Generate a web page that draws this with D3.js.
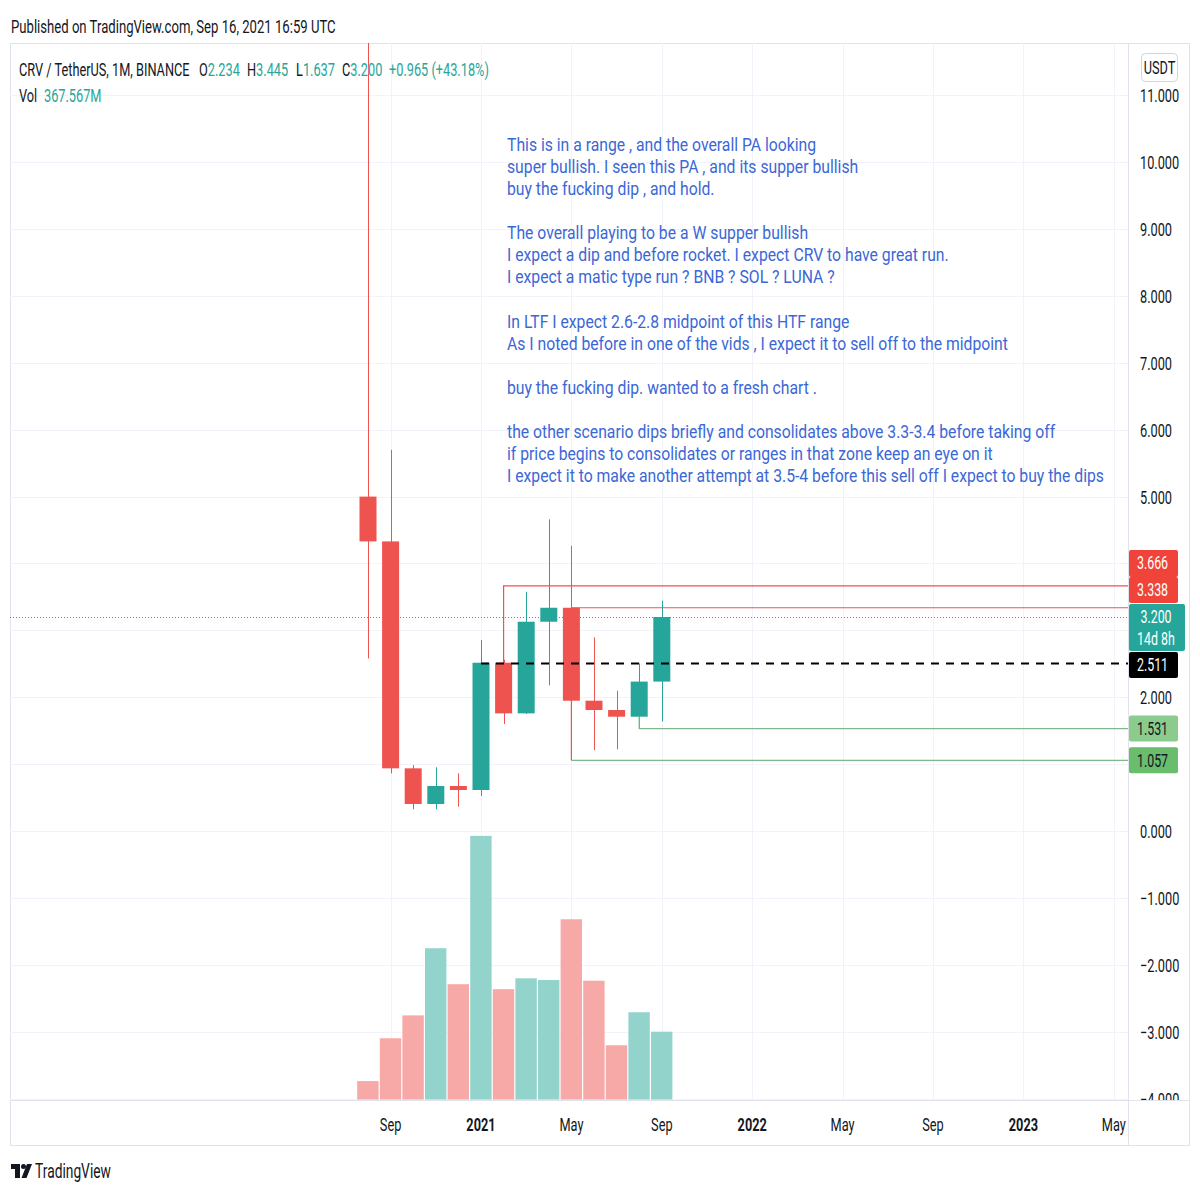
<!DOCTYPE html>
<html><head><meta charset="utf-8">
<script src="https://cdn.jsdelivr.net/npm/d3@7"></script>
<style>
body{margin:0;background:#fff}
text{font-family:Roboto,"Noto Sans",sans-serif}
</style>
</head><body>
<svg id="c" width="1200" height="1200"></svg>
<script>
// ---------- data ----------
const months = ["2020-08","2020-09","2020-10","2020-11","2020-12","2021-01","2021-02","2021-03","2021-04","2021-05","2021-06","2021-07","2021-08","2021-09"];
const open   = [5.000, 4.330, 0.937, 0.404, 0.673, 0.613, 2.516, 1.759, 3.129, 3.338, 1.948, 1.809, 1.709, 2.234];
const high   = [15.00, 5.700, 0.986, 0.952, 0.862, 2.855, 2.560, 3.577, 4.660, 4.265, 2.895, 2.097, 2.506, 3.445];
const low    = [2.580, 0.862, 0.324, 0.324, 0.364, 0.523, 1.600, 1.750, 2.180, 1.057, 1.211, 1.221, 1.535, 1.637];
const close  = [4.330, 0.937, 0.404, 0.673, 0.613, 2.516, 1.759, 3.129, 3.338, 1.948, 1.809, 1.709, 2.234, 3.200];
const volume = [100, 332, 456, 820, 625, 1429, 598, 657, 648, 977, 644, 294, 473, 367.567]; // millions

const gridTicks  = [-4,-3,-2,-1,0,1,2,3,4,5,6,7,8,9,10,11];
const priceTicks = [-4,-3,-2,-1,0,2,5,6,7,8,9,10,11];   // labels not hidden by the price tags
const timeTicks = ["2020-09","2021-01","2021-05","2021-09","2022-01","2022-05","2022-09","2023-01","2023-05"];
const timeTickLabels = ["Sep","2021","May","Sep","2022","May","Sep","2023","May"];

// drawn levels (price, start month)
const rangeTop = {price:3.666, from:"2021-02", base:2.516};
const rangeMid = {price:3.338, from:"2021-05"};
const rangeLow = {price:1.057, from:"2021-05"};
const supportLvl = {price:1.531, from:"2021-08", base:1.709};
const dashedLvl = {price:2.511, from:"2021-01"};
const lastPrice = 3.200;

const labelValues = [3.666, 3.338, 3.200, 2.511, 1.531, 1.057];
const labelTexts  = [["3.666"],["3.338"],["3.200","14d 8h"],["2.511"],["1.531"],["1.057"]];
const labelFills  = ["#f0433a","#f0433a","#26a69a","#000000","#8ccb8e","#69bd6d"];
const labelInk    = ["#fff","#fff","#fff","#fff","#131722","#131722"];

const legend = {sym:"CRV / TetherUS, 1M, BINANCE", change:"+0.965 (+43.18%)", vol:"367.567M"};

const notes = [
 "This is in a range , and the overall PA looking",
 "super bullish. I seen this PA , and its supper bullish",
 "buy the fucking dip , and hold.",
 "",
 "The overall playing to be a W supper bullish",
 "I expect a dip and before rocket. I expect CRV to have great run.",
 "I expect a matic type run ? BNB ? SOL ? LUNA ?",
 "",
 "In LTF I expect 2.6-2.8 midpoint of this HTF range",
 "As I noted before in one of the vids , I expect it to sell off to the midpoint",
 "",
 "buy the fucking dip. wanted to a fresh chart .",
 "",
 "the other scenario dips briefly and consolidates above 3.3-3.4 before taking off",
 "if price begins to consolidates or ranges in that zone keep an eye on it",
 "I expect it to make another attempt at 3.5-4 before this sell off I expect to buy the dips"
];

// ---------- layout ----------
const SQ = 0.69;               // horizontal squeeze of the UI text
const NOTE_SIZE = 19;
const SQN = 0.75*21/NOTE_SIZE; // squeeze of the note text
const PL = 10, PT = 43, PR = 1128, PB = 1100, FR = 1189, FB = 1145;
const UP = "#26a69a", DN = "#ef5350";
const UPV = "#92d3cc", DNV = "#f7a9a7";
const GRID = "#f0f3fa", BORDER = "#e0e3eb", INK = "#131722";

const svg = d3.select("#c");
const fmtKey = d3.utcFormat("%Y-%m");
const allMonths = d3.utcMonths(new Date(Date.UTC(2020,7,1)), new Date(Date.UTC(2023,5,1))).map(fmtKey);

const BAR = 22.6, X0 = 356.7;
const x = d3.scaleBand().domain(allMonths).range([X0, X0 + BAR*allMonths.length]).padding(0);
const cx = k => x(k) + x.bandwidth()/2;
const PPU = 66.88;
const y = d3.scaleLinear().domain([-4, 11]).range([831 + 4*PPU, 831 - 11*PPU]);
const yv = d3.scaleLinear().domain([0, 1430]).range([1099.5, 835.7]);

function txt(g, px, py, s, o={}) {
  return g.append("text")
    .attr("transform", `translate(${px},${py}) scale(${o.sq || SQ},1)`)
    .attr("text-anchor", o.anchor || "start")
    .attr("font-size", o.size || 18.5)
    .attr("font-weight", o.weight || 400)
    .attr("fill", o.fill || INK)
    .text(s);
}

// clip
const defs = svg.append("defs");
defs.append("clipPath").attr("id","pane")
  .append("rect").attr("x",PL).attr("y",PT).attr("width",PR-PL).attr("height",PB-PT);
defs.append("clipPath").attr("id","axisclip")
  .append("rect").attr("x",PR).attr("y",PT).attr("width",FR-PR).attr("height",PB-PT);

// header
txt(svg, 11, 33, "Published on TradingView.com, Sep 16, 2021 16:59 UTC", {size:18.5, sq:0.71});

// frame
svg.append("rect").attr("x",PL+0.5).attr("y",PT+0.5).attr("width",FR-PL).attr("height",FB-PT)
  .attr("fill","none").attr("stroke",BORDER);

const pane = svg.append("g").attr("clip-path","url(#pane)");

// grid
pane.selectAll("line.hg").data(gridTicks).join("line").attr("class","hg")
  .attr("x1",PL).attr("x2",PR).attr("y1",d=>Math.round(y(d))+0.5).attr("y2",d=>Math.round(y(d))+0.5)
  .attr("stroke",GRID);
pane.selectAll("line.vg").data(timeTicks).join("line").attr("class","vg")
  .attr("x1",d=>Math.round(cx(d))+0.5).attr("x2",d=>Math.round(cx(d))+0.5).attr("y1",PT).attr("y2",PB)
  .attr("stroke",GRID);

// volume
const candles = months.map((m,i)=>({m, o:open[i], h:high[i], l:low[i], c:close[i], v:volume[i]}));
pane.selectAll("rect.vol").data(candles).join("rect").attr("class","vol")
  .attr("x",d=>x(d.m)+0.5).attr("width",x.bandwidth()-1.2)
  .attr("y",d=>yv(d.v)).attr("height",d=>yv(0)-yv(d.v))
  .attr("fill",d=>d.c>=d.o?UPV:DNV);

// candles
pane.selectAll("line.wick").data(candles).join("line").attr("class","wick")
  .attr("x1",d=>Math.round(cx(d.m))+0.5).attr("x2",d=>Math.round(cx(d.m))+0.5)
  .attr("y1",d=>y(d.h)).attr("y2",d=>y(d.l))
  .attr("stroke",d=>d.c>=d.o?UP:DN).attr("stroke-width",1);
pane.selectAll("rect.body").data(candles).join("rect").attr("class","body")
  .attr("x",d=>cx(d.m)-8.5).attr("width",17)
  .attr("y",d=>y(Math.max(d.o,d.c))).attr("height",d=>Math.max(1.5, Math.abs(y(d.o)-y(d.c))))
  .attr("fill",d=>d.c>=d.o?UP:DN);

// drawings
const RED_L = "#ef5350", GRN_L = "#7db98c";
function path(pts, color, dash) {
  pane.append("path").attr("d", d3.line()(pts)).attr("fill","none")
    .attr("stroke",color).attr("stroke-width",1.2).attr("stroke-dasharray",dash||null);
}
path([[cx(rangeTop.from), y(rangeTop.base)], [cx(rangeTop.from), y(rangeTop.price)], [PR, y(rangeTop.price)]], RED_L);
path([[cx(rangeMid.from), y(rangeMid.price)], [PR, y(rangeMid.price)]], RED_L);
path([[cx(rangeLow.from), y(rangeLow.price)], [PR, y(rangeLow.price)]], GRN_L);
path([[cx(rangeMid.from), y(rangeMid.price)], [cx(rangeLow.from), y(rangeLow.price)]], RED_L);
path([[cx(supportLvl.from), y(supportLvl.base)], [cx(supportLvl.from), y(supportLvl.price)], [PR, y(supportLvl.price)]], GRN_L);
pane.append("line").attr("x1",cx(dashedLvl.from)).attr("x2",PR)
  .attr("y1",Math.round(y(dashedLvl.price))+0.5).attr("y2",Math.round(y(dashedLvl.price))+0.5)
  .attr("stroke","#000").attr("stroke-width",2).attr("stroke-dasharray","8,7");
pane.append("line").attr("x1",PL).attr("x2",PR)
  .attr("y1",Math.round(y(lastPrice))+0.5).attr("y2",Math.round(y(lastPrice))+0.5)
  .attr("stroke",UP).attr("stroke-width",1).attr("stroke-dasharray","1,2");

// separators
svg.append("line").attr("x1",PL).attr("x2",FR).attr("y1",PB+0.5).attr("y2",PB+0.5).attr("stroke",BORDER);
svg.append("line").attr("x1",PR+0.5).attr("x2",PR+0.5).attr("y1",PT).attr("y2",FB).attr("stroke",BORDER);

// price axis
const axWrap = svg.append("g").attr("clip-path","url(#axisclip)");
const ax = axWrap.append("g").attr("transform",`translate(${PR},0)`)
  .call(d3.axisRight(y).tickValues(priceTicks).tickSize(0).tickPadding(0).tickFormat(d3.format(".3f")));
ax.select(".domain").remove();
ax.selectAll("text").attr("font-size",18.5).attr("fill",INK).attr("font-family","Roboto")
  .attr("x", 12/SQ).attr("dy","0.36em").attr("transform",`scale(${SQ},1)`);

// USDT box
svg.append("rect").attr("x",1141.5).attr("y",53.5).attr("width",36).attr("height",28).attr("rx",4)
  .attr("fill","#fff").attr("stroke","#d1d4dc");
txt(svg, 1159.5, 74, "USDT", {anchor:"middle", size:18.5});

// right labels with overlap resolution, anchored at the last price label
const boxes = labelValues.map((v,i)=>{
  const h = labelTexts[i].length>1 ? 47 : 26;
  return {v, i, h, top: y(v)-13};
});
const anchor = boxes.findIndex(b=>b.v===lastPrice);
for (let k=anchor-1;k>=0;k--) { const lowB = boxes[k+1]; if (boxes[k].top+boxes[k].h > lowB.top) boxes[k].top = lowB.top - boxes[k].h - 1; }
for (let k=anchor+1;k<boxes.length;k++) { const upB = boxes[k-1]; if (boxes[k].top < upB.top+upB.h+1) boxes[k].top = upB.top+upB.h+1; }
const lab = svg.append("g");
boxes.forEach(b=>{
  const w = labelTexts[b.i].length>1 ? 56 : 49;
  lab.append("rect").attr("x",PR+1).attr("y",b.top).attr("width",w).attr("height",b.h+ (b.i===0?1:0)).attr("rx",2)
    .attr("fill",labelFills[b.i]);
  labelTexts[b.i].forEach((t,j)=>{
    txt(lab, PR+1+w/2-1, b.top+19.5+j*22, t, {anchor:"middle", size:18, fill:labelInk[b.i]});
  });
});

// time axis
const tx = svg.append("g").attr("transform",`translate(0,${PB})`)
  .call(d3.axisBottom(x).tickValues(timeTicks).tickSize(0).tickPadding(0)
    .tickFormat(d=>timeTickLabels[timeTicks.indexOf(d)]));
tx.select(".domain").remove();
tx.selectAll("text").attr("font-size",18.5).attr("fill",INK).attr("font-family","Roboto")
  .attr("y",31).attr("dy",null).attr("transform",`scale(${SQ},1)`)
  .attr("font-weight",d=>/^\d{4}$/.test(timeTickLabels[timeTicks.indexOf(d)])?700:400);

// legend
const lg = svg.append("g");
const last = candles.length-1;
txt(lg, 19, 76, legend.sym);
const f3 = d3.format(".3f");
[["O",open[last],199],["H",high[last],247],["L",low[last],296],["C",close[last],342]].forEach(([k,v,px])=>{
  const t = lg.append("text").attr("transform",`translate(${px},76) scale(${SQ},1)`).attr("font-size",18.5).attr("fill",INK);
  t.append("tspan").text(k);
  t.append("tspan").attr("fill",UP).text(f3(v));
});
txt(lg, 389, 76, legend.change, {fill:UP});
txt(lg, 19, 102, "Vol");
txt(lg, 44, 102, legend.vol, {fill:UP});

// annotation
const an = svg.append("g");
notes.forEach((s,i)=>{ if (s) txt(an, 507, 151 + i*22.07, s, {size:NOTE_SIZE, fill:"#3b67d6", sq:SQN}); });

// footer logo
const lo = svg.append("g").attr("fill",INK);
lo.append("rect").attr("x",11).attr("y",1164).attr("width",9).attr("height",5);
lo.append("rect").attr("x",15).attr("y",1164).attr("width",5).attr("height",14);
lo.append("circle").attr("cx",23.5).attr("cy",1166.5).attr("r",2.5);
lo.append("path").attr("d","M27,1164 L32,1164 L26.5,1178 L21.5,1178 Z");
txt(svg, 35, 1178, "TradingView", {size:20});
</script>
</body></html>
